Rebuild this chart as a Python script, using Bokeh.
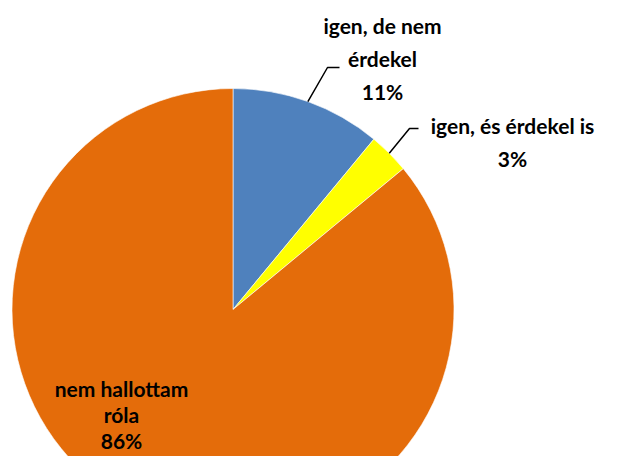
import numpy as np
from bokeh.plotting import figure
from bokeh.models import Range1d
from bokeh.core.properties import value
from bokeh.embed import file_html
from bokeh.resources import INLINE

# data
categories = ["igen, de nem érdekel", "igen, és érdekel is", "nem hallottam róla"]
percents = [11, 3, 86]
colors = ["#4F81BD", "#FFFF00", "#E46C0A"]
label_lines = [["igen, de nem", "érdekel", "11%"],
               ["igen, és érdekel is", "3%"],
               ["nem hallottam", "róla", "86%"]]

# layout (picture pixel coords -> data y = H - py)
W, H = 603, 456
cx, cy, r = 232.5, H - 309, 221
label_pos = [(382, 25), (512, 125), (121, 388)]
line_gaps = [33, 33, 26]
elbows = [((327, 67), (339, 67)), ((409, 128), (418, 128)), None]

p = figure(width=W, height=H, x_range=Range1d(0, W), y_range=Range1d(0, H),
           output_backend="svg", toolbar_location=None, min_border=0)
p.axis.visible = False
p.grid.visible = False
p.outline_line_color = None
p.background_fill_color = "white"

frac = np.array(percents, dtype=float) / sum(percents)
cum = np.concatenate([[0], np.cumsum(frac)])
start = np.pi / 2 - cum[1:] * 2 * np.pi
end = np.pi / 2 - cum[:-1] * 2 * np.pi

p.wedge(x=[cx] * 3, y=[cy] * 3, radius=r, start_angle=list(start), end_angle=list(end),
        fill_color=colors, line_color="white", line_width=0.6)

for i, lines in enumerate(label_lines):
    lx, ly = label_pos[i]
    ys = [H - (ly + k * line_gaps[i]) for k in range(len(lines))]
    p.text(x=[lx] * len(lines), y=ys, text=lines, text_font=value("Lato"),
           text_font_style="bold", text_font_size="21px", text_color="black",
           text_align="center", text_baseline="middle")
    if elbows[i] is not None:
        mid = (start[i] + end[i]) / 2
        sx, sy = cx + r * np.cos(mid), cy + r * np.sin(mid)
        (ex, ey), (hx, hy) = elbows[i]
        p.line(x=[sx, ex, hx], y=[sy, H - ey, H - hy], line_color="black", line_width=1.5)

open("out.html", "w").write(file_html(p, INLINE))
